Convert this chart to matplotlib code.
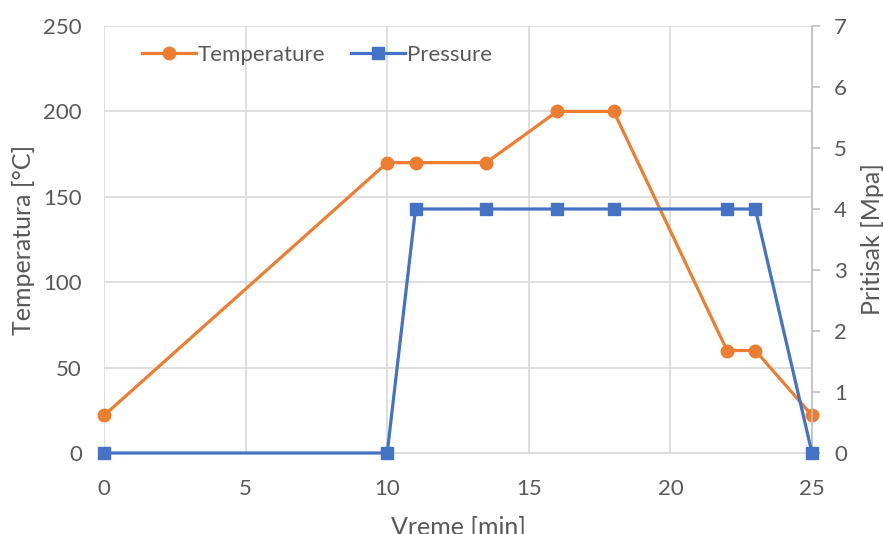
import matplotlib
matplotlib.use("Agg")
import matplotlib.pyplot as plt
from matplotlib.lines import Line2D

plt.rcParams['font.family'] = ['Lato', 'DejaVu Sans']

# Process profile: time [min], temperature [°C], pressure [MPa]
time_min = [0, 10, 11, 13.5, 16, 18, 22, 23, 25]
temperature = [22, 170, 170, 170, 200, 200, 60, 60, 22]
pressure = [0, 0, 4, 4, 4, 4, 4, 4, 0]

x_ticks = [0, 5, 10, 15, 20, 25]
temp_ticks = [0, 50, 100, 150, 200, 250]
press_ticks = [0, 1, 2, 3, 4, 5, 6, 7]

ORANGE = '#ED7D31'
BLUE = '#4472C4'
GRID = '#D9D9D9'
TEXT = '#595959'
FS = 16
FS_TITLE = 18

fig = plt.figure(figsize=(8.83, 5.34), dpi=100)
ax = fig.add_axes([104/883, 1 - 453/534, (812-104)/883, (453-26)/534])
ax2 = ax.twinx()

ax.plot(time_min, temperature, color=ORANGE, lw=2.3, marker='o', ms=9,
        label='Temperature', zorder=3, clip_on=False)
ax2.plot(time_min, pressure, color=BLUE, lw=2.3, marker='s', ms=9,
         label='Pressure', zorder=3, clip_on=False)

ax.set_xlim(0, 25)
ax.set_ylim(0, 250)
ax2.set_ylim(0, 7)
ax.set_xticks(x_ticks)
ax.set_yticks(temp_ticks)
ax2.set_yticks(press_ticks)

ax.grid(True, color=GRID, lw=1.2)
ax.set_axisbelow(True)

for s in ['top', 'left', 'right']:
    ax.spines[s].set_visible(False)
ax.spines['bottom'].set_color(GRID)
ax.spines['bottom'].set_linewidth(1.2)
for s in ['top', 'left', 'bottom']:
    ax2.spines[s].set_visible(False)
ax2.spines['right'].set_color('#BFBFBF')
ax2.spines['right'].set_linewidth(1.2)

ax.tick_params(axis='y', length=0, labelsize=FS, colors=TEXT, pad=16)
ax.tick_params(axis='x', length=0, labelsize=FS, colors=TEXT, pad=19)
ax2.tick_params(axis='y', length=6, width=1.2, color='#BFBFBF',
                labelsize=FS, labelcolor=TEXT, pad=10)

ax.set_xlabel('Vreme [min]', fontsize=FS_TITLE, color=TEXT, labelpad=12)
ax.set_ylabel('Temperatura [°C]', fontsize=FS_TITLE, color=TEXT, labelpad=6)
ax2.set_ylabel('Pritisak [Mpa]', fontsize=FS_TITLE, color=TEXT, labelpad=10)

handles = [Line2D([], [], color=ORANGE, lw=2.3, marker='o', ms=9),
           Line2D([], [], color=BLUE, lw=2.3, marker='s', ms=9)]
leg = ax.legend(handles, ['Temperature', 'Pressure'], loc='upper left',
                bbox_to_anchor=(0.026, 1.002), ncol=2, frameon=False,
                fontsize=FS, handlelength=2.4, handletextpad=0.1,
                columnspacing=1.17)
for t in leg.get_texts():
    t.set_color(TEXT)

fig.savefig('out.png', dpi=100)
